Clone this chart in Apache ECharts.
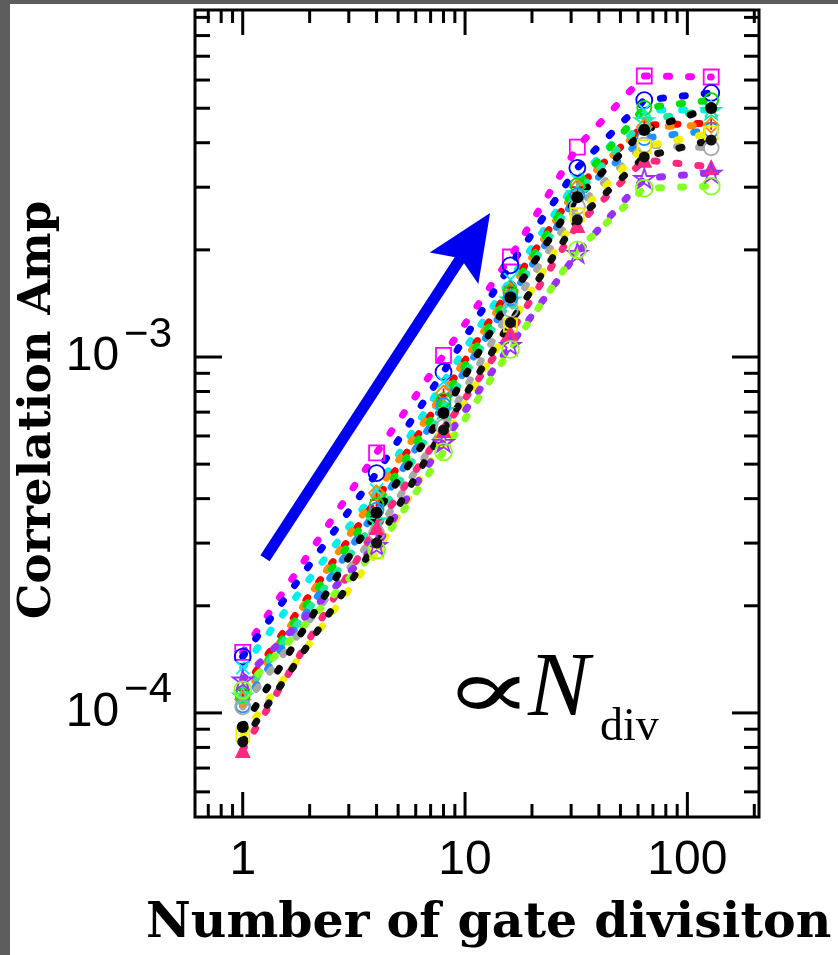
<!DOCTYPE html>
<html>
<head>
<meta charset="utf-8">
<script src="https://cdn.jsdelivr.net/npm/echarts@6.0.0/dist/echarts.min.js"></script>
<style>
  html, body { margin: 0; padding: 0; background: #fff; }
  #myChart { width: 838px; height: 955px; }
</style>
</head>
<body>
<div id="myChart"></div>
<script>
  // number of gate divisions
  var xValues = [1, 4, 8, 16, 32, 64, 128];

  // correlation amplitude, one array per curve
  var magentaAmp = [1.48e-4, 5.38e-4, 1.01e-3, 1.91e-3, 3.89e-3, 6.16e-3, 6.12e-3];
  var blueAmp    = [1.44e-4, 4.72e-4, 9.08e-4, 1.81e-3, 3.40e-3, 5.27e-3, 5.52e-3];
  var cyanAmp    = [1.34e-4, 4.23e-4, 8.51e-4, 1.65e-3, 3.14e-3, 4.94e-3, 4.94e-3];
  var redAmp     = [1.16e-4, 3.97e-4, 7.82e-4, 1.57e-3, 3.00e-3, 4.48e-3, 4.54e-3];
  var orangeAmp  = [1.09e-4, 4.15e-4, 7.92e-4, 1.54e-3, 3.00e-3, 4.43e-3, 4.48e-3];
  var greenAmp   = [1.12e-4, 3.84e-4, 7.57e-4, 1.52e-3, 3.04e-3, 5.01e-3, 5.27e-3];
  var tealAmp    = [1.12e-4, 3.48e-4, 7.10e-4, 1.45e-3, 2.89e-3, 4.63e-3, 4.94e-3];
  var skyAmp     = [1.05e-4, 3.72e-4, 7.33e-4, 1.46e-3, 2.85e-3, 4.12e-3, 4.34e-3];
  var grayAmp    = [1.04e-4, 3.20e-4, 6.36e-4, 1.36e-3, 2.64e-3, 3.94e-3, 3.87e-3];
  var yellowAmp  = [8.67e-5, 2.83e-4, 5.85e-4, 1.23e-3, 2.51e-3, 3.90e-3, 4.26e-3];
  var pinkAmp    = [7.87e-5, 3.33e-4, 6.24e-4, 1.17e-3, 2.35e-3, 3.58e-3, 3.42e-3];
  var purpleAmp  = [1.24e-4, 2.96e-4, 5.77e-4, 1.08e-3, 1.96e-3, 3.18e-3, 3.29e-3];
  var limeAmp    = [1.16e-4, 2.87e-4, 5.41e-4, 1.05e-3, 2.00e-3, 2.98e-3, 3.02e-3];
  var blackAmp   = [9.13e-5, 3.65e-4, 6.96e-4, 1.47e-3, 2.81e-3, 4.34e-3, 5.01e-3];
  var darkAmp    = [8.29e-5, 3.00e-4, 6.24e-4, 1.25e-3, 2.43e-3, 3.65e-3, 4.07e-3];

  // axis ticks
  var xMajorTicks = [1, 10, 100];
  var xMinorTicks = [0.7, 0.8, 0.9, 2, 3, 4, 5, 6, 7, 8, 9, 20, 30, 40, 50, 60, 70, 80, 90, 200];
  var xTickLabels = ['1', '10', '100'];
  var yMajorTicks = [1e-4, 1e-3];
  var yMinorTicks = [6e-5, 7e-5, 8e-5, 9e-5, 2e-4, 3e-4, 4e-4, 5e-4, 6e-4, 7e-4, 8e-4, 9e-4,
                     2e-3, 3e-3, 4e-3, 5e-3, 6e-3, 7e-3, 8e-3, 9e-3];
  var yTickExponents = ['\u22124', '\u22123'];

  var xMin = 0.61, xMax = 210;
  var yMin = 5.1e-5, yMax = 9.44e-3;

  // blue arrow, in data units
  var arrowFrom = [1.26, 2.72e-4];
  var arrowTo = [12.96, 2.54e-3];

  var starPath = 'path://M50,0L61,35L98,35L68,57L79,91L50,70L21,91L32,57L2,35L39,35Z';
  var crossPath = 'path://M0,0L10,10M10,0L0,10';
  var plusPath = 'path://M5,0L5,10M0,5L10,5';

  var curves = [
    {data: magentaAmp, color: '#ff00ff', symbol: 'rect', size: 15, open: true},
    {data: blueAmp, color: '#0000ff', symbol: 'circle', size: 16, open: true},
    {data: cyanAmp, color: '#00f0f0', symbol: crossPath, size: 13, open: true},
    {data: redAmp, color: '#ff0000', symbol: plusPath, size: 13, open: true},
    {data: orangeAmp, color: '#ff8c00', symbol: 'diamond', size: 15, open: true},
    {data: greenAmp, color: '#00e000', symbol: 'circle', size: 14, open: true},
    {data: tealAmp, color: '#20e8a0', symbol: starPath, size: 19, open: true},
    {data: skyAmp, color: '#1e90ff', symbol: 'circle', size: 14, open: true},
    {data: grayAmp, color: '#a8a8a8', symbol: 'circle', size: 15, open: true},
    {data: yellowAmp, color: '#f0f000', symbol: 'rect', size: 13, open: true},
    {data: pinkAmp, color: '#ff2a7f', symbol: 'triangle', size: 16, open: false},
    {data: purpleAmp, color: '#9a30ff', symbol: starPath, size: 20, open: true},
    {data: limeAmp, color: '#88ff22', symbol: 'circle', size: 17, open: true},
    {data: blackAmp, color: '#000000', symbol: 'circle', size: 12, open: false},
    {data: darkAmp, color: '#111111', symbol: 'circle', size: 11, open: false}
  ];

  function isPow10(v) {
    var l = Math.log10(v);
    return Math.abs(l - Math.round(l)) < 1e-6;
  }

  function renderXTick(params, api) {
    var cs = params.coordSys;
    var px = api.coord([api.value(0), api.value(1)])[0];
    var len = api.value(2) ? 25 : 13;
    var st = {stroke: '#000', lineWidth: 3};
    return {
      type: 'group',
      children: [
        {type: 'line', shape: {x1: px, y1: cs.y + cs.height, x2: px, y2: cs.y + cs.height - len}, style: st},
        {type: 'line', shape: {x1: px, y1: cs.y, x2: px, y2: cs.y + len}, style: st}
      ]
    };
  }

  function renderYTick(params, api) {
    var cs = params.coordSys;
    var py = api.coord([api.value(0), api.value(1)])[1];
    var len = api.value(2) ? 27 : 15;
    var st = {stroke: '#000', lineWidth: 3};
    return {
      type: 'group',
      children: [
        {type: 'line', shape: {x1: cs.x, y1: py, x2: cs.x + len, y2: py}, style: st},
        {type: 'line', shape: {x1: cs.x + cs.width, y1: py, x2: cs.x + cs.width - len, y2: py}, style: st}
      ]
    };
  }

  var series = [];
  curves.forEach(function (c) {
    series.push({
      type: 'line',
      data: xValues.map(function (x, i) { return [x, c.data[i]]; }),
      symbol: c.symbol,
      symbolSize: c.size,
      symbolKeepAspect: true,
      itemStyle: c.open
        ? {color: 'rgba(0,0,0,0)', borderColor: c.color, borderWidth: 1.8}
        : {color: c.color, borderWidth: 0},
      lineStyle: {color: c.color, width: 7, type: [3, 19], cap: 'round'},
      silent: true
    });
  });

  series.push({
    type: 'custom',
    renderItem: renderXTick,
    silent: true,
    z: 5,
    data: xMajorTicks.map(function (v) { return [v, yMin, 1]; })
      .concat(xMinorTicks.map(function (v) { return [v, yMin, 0]; }))
  });
  series.push({
    type: 'custom',
    renderItem: renderYTick,
    silent: true,
    z: 5,
    data: yMajorTicks.map(function (v) { return [xMin, v, 1]; })
      .concat(yMinorTicks.map(function (v) { return [xMin, v, 0]; }))
  });

  var staticGraphic = [
    {type: 'rect', shape: {x: 0, y: 0, width: 10, height: 955}, style: {fill: '#5d5d5d'}},
    {type: 'rect', shape: {x: 0, y: 0, width: 838, height: 4}, style: {fill: '#5d5d5d'}},
    {
      type: 'text', x: 146, y: 924,
      style: {text: 'Number of gate divisiton', font: 'bold 49px "DejaVu Serif"', fill: '#000',
              textAlign: 'left', textVerticalAlign: 'middle'}
    },
    {
      type: 'text', x: 38, y: 410, rotation: Math.PI / 2,
      style: {text: 'Correlation Amp', font: 'bold 45px "DejaVu Serif"', fill: '#000',
              textAlign: 'center', textVerticalAlign: 'middle'}
    },
    {
      type: 'text', x: 443, y: 696, scaleX: 1.6,
      style: {text: '\u221d', font: '84px "DejaVu Serif"', fill: '#000',
              textAlign: 'left', textVerticalAlign: 'middle'}
    },
    {
      type: 'text', x: 528, y: 691,
      style: {text: 'N', font: 'italic 92px "Liberation Serif"', fill: '#000',
              textAlign: 'left', textVerticalAlign: 'middle'}
    },
    {
      type: 'text', x: 600, y: 728,
      style: {text: 'div', font: '46px "Liberation Serif"', fill: '#000',
              textAlign: 'left', textVerticalAlign: 'middle'}
    }
  ];

  var option = {
    animation: false,
    backgroundColor: '#fff',
    grid: {left: 195, top: 10, right: 79, bottom: 138, show: true, borderColor: '#000', borderWidth: 3},
    xAxis: {
      type: 'log',
      min: xMin,
      max: xMax,
      axisLine: {show: false},
      axisTick: {show: false},
      splitLine: {show: false},
      axisLabel: {
        margin: 20,
        color: '#000',
        fontFamily: 'Liberation Sans',
        fontSize: 48,
        formatter: function (v) {
          if (!isPow10(v)) return '';
          var i = Math.round(Math.log10(v));
          return xTickLabels[i] || '';
        }
      }
    },
    yAxis: {
      type: 'log',
      min: yMin,
      max: yMax,
      axisLine: {show: false},
      axisTick: {show: false},
      splitLine: {show: false},
      axisLabel: {
        margin: 23,
        color: '#000',
        formatter: function (v) {
          if (!isPow10(v)) return '';
          var i = Math.round(Math.log10(v)) + 4;
          if (!yTickExponents[i]) return '';
          return '{b|10}{s|' + yTickExponents[i] + '}';
        },
        rich: {
          b: {fontFamily: 'Liberation Sans', fontSize: 48, color: '#000'},
          s: {fontFamily: 'Liberation Sans', fontSize: 42, color: '#000', padding: [0, 0, 44, 5]}
        }
      }
    },
    graphic: staticGraphic,
    series: series
  };

  var myChart = echarts.init(document.getElementById('myChart'));
  myChart.setOption(option);

  // arrow drawn from data units through the chart's own scales
  var p0 = myChart.convertToPixel({gridIndex: 0}, arrowFrom);
  var p1 = myChart.convertToPixel({gridIndex: 0}, arrowTo);
  var dx = p1[0] - p0[0], dy = p1[1] - p0[1];
  var d = Math.sqrt(dx * dx + dy * dy);
  var ux = dx / d, uy = dy / d, nx = -uy, ny = ux;
  var headLen = 60, headHalf = 29, notch = 6;
  var bx = p1[0] - ux * headLen, by = p1[1] - uy * headLen;
  myChart.setOption({
    graphic: staticGraphic.concat([
      {
        type: 'line', z: 10,
        shape: {x1: p0[0], y1: p0[1], x2: bx + ux * notch, y2: by + uy * notch},
        style: {stroke: '#0000f0', lineWidth: 11}
      },
      {
        type: 'polygon', z: 10,
        shape: {points: [
          [p1[0], p1[1]],
          [bx - ux * notch + nx * headHalf, by - uy * notch + ny * headHalf],
          [bx + ux * notch, by + uy * notch],
          [bx - ux * notch - nx * headHalf, by - uy * notch - ny * headHalf]
        ]},
        style: {fill: '#0000f0'}
      }
    ])
  }, {replaceMerge: ['graphic']});
</script>
</body>
</html>
